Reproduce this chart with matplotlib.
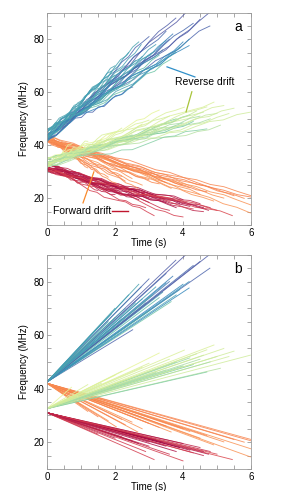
import matplotlib
matplotlib.use("Agg")
import matplotlib.pyplot as plt
import numpy as np

plt.rcParams['font.family'] = ['Liberation Sans', 'DejaVu Sans']

# start frequency (MHz) of each drift group at t = 0
start_blue = 42.5
start_green = 32.5
start_orange = 42.0
start_red = 31.0

# fitted tracks: end time (s), end frequency (MHz), colour value on Spectral
blue_end_t = [2.77, 1.55, 2.52, 4.08, 4.77, 4.79, 3.79, 3.65, 3.9, 3.0, 2.7, 3.4,
              3.6, 2.0, 2.2, 3.3, 4.0, 2.9, 1.8, 3.5, 2.4, 3.0, 4.3, 3.8, 4.18, 4.18,
              3.2, 2.6, 3.7, 1.9, 2.3, 3.5, 4.5, 3.1, 2.0, 2.8]
blue_end_f = [78, 63.5, 62, 90, 90, 85, 88, 72.5, 77, 81, 79, 76,
              80, 70, 66, 74, 79, 72, 65, 83, 75, 69, 86, 75, 80, 77.6,
              78, 72, 82, 68, 70, 79.5, 87.5, 75, 66.5, 73.5]
blue_c = [0.86, 0.86, 0.96, 0.98, 0.97, 0.96, 0.97, 0.79, 0.87, 0.96, 0.85, 0.86,
          0.94, 0.85, 0.83, 0.81, 0.9, 0.84, 0.84, 0.95, 0.86, 0.82, 0.95, 0.85, 0.88, 0.9,
          0.86, 0.85, 0.92, 0.86, 0.85, 0.88, 0.97, 0.84, 0.84, 0.87]

green_end_t = [5.98, 4.91, 5.35, 5.2, 4.04, 3.3, 5.1, 4.7, 4.5, 2.8, 2.0, 1.2,
               0.72, 3.8, 4.3, 4.6, 3.5, 4.8, 2.5, 5.0, 3.0, 4.2,
               4.4, 3.6, 5.5, 2.2, 4.0, 3.2, 4.7, 1.6]
green_end_f = [52.5, 56.3, 52.0, 55.0, 54.4, 53.3, 47.6, 46.2, 51.0, 48.0, 45.0, 41.5,
               40.5, 50.0, 49.0, 52.5, 47.0, 50.0, 44.0, 52.0, 49.5, 51.5,
               53.0, 51.0, 54.0, 46.5, 48.5, 46.0, 54.5, 42.0]
green_c = [0.64, 0.62, 0.64, 0.63, 0.62, 0.6, 0.68, 0.75, 0.7, 0.62, 0.6, 0.62,
           0.6, 0.76, 0.78, 0.65, 0.68, 0.7, 0.66, 0.66, 0.62, 0.72,
           0.65, 0.63, 0.64, 0.62, 0.73, 0.7, 0.63, 0.64]

orange_end_t = [6.0, 6.0, 5.98, 5.2, 4.9, 4.5, 3.65, 2.67, 2.04, 2.3, 1.5, 1.2,
                3.0, 4.0, 2.5, 1.8, 3.3, 5.5, 5.8, 4.2, 2.8, 1.0, 3.5, 2.2, 4.7, 6.0]
orange_end_f = [20.5, 21.0, 14.5, 20.1, 19.0, 21.5, 23.8, 23.8, 25.7, 26.5, 29.5, 31.5,
                27.0, 25.0, 27.5, 28.0, 25.5, 21.0, 20.0, 24.0, 25.0, 34.0, 26.0, 28.5,
                22.5, 17.5]
orange_c = [0.23, 0.24, 0.26, 0.25, 0.26, 0.25, 0.26, 0.25, 0.24, 0.23, 0.23, 0.25,
            0.24, 0.23, 0.25, 0.26, 0.24, 0.23, 0.24, 0.25, 0.26, 0.25, 0.23, 0.24,
            0.23, 0.26]

red_end_t = [5.45, 4.75, 4.6, 4.0, 3.15, 2.4, 3.6, 4.2, 3.9, 3.0, 2.7, 2.0,
             3.4, 4.5, 1.5, 2.9, 4.0, 3.2, 4.8, 4.6, 3.8, 2.5, 4.3, 3.5, 2.2, 5.0, 3.0]
red_end_f = [13.5, 15.5, 16.5, 13.0, 13.5, 23.5, 15.5, 17.0, 18.0, 18.5, 19.5, 21.5,
             20.0, 18.0, 23.0, 16.5, 19.5, 21.0, 16.5, 15.0, 16.5, 20.5, 16.0, 18.5,
             22.0, 15.5, 20.0]
red_c = [0.12, 0.05, 0.02, 0.1, 0.1, 0.04, 0.08, 0.03, 0.0, 0.06, 0.03, 0.05,
         0.02, 0.06, 0.08, 0.09, 0.04, 0.01, 0.07, 0.06, 0.03, 0.05, 0.1, 0.02,
         0.07, 0.11, 0.04]

# deviation of measured tracks from the fitted line (MHz), along each track
wiggles = [
    [0.5, 1.5, 1.0, 2.0, 1.2, 0.8, 1.6, 0.4, -0.3, 0.6, 1.1, 0.2, -0.5, 0.3, 0.9, 0.0],
    [1.0, 0.2, -0.8, -0.2, -1.2, -0.5, 0.4, -0.6, -1.4, -0.9, 0.1, -0.3, 0.6, 1.0, 0.3, 0.0],
    [2.5, 3.0, 1.8, 2.2, 0.9, 1.4, 0.3, -0.4, 0.5, -0.2, -1.0, -0.3, 0.4, -0.6, 0.2, 0.0],
    [-0.5, -1.2, -0.4, 0.6, 1.3, 0.8, 1.8, 1.1, 0.4, 1.2, 0.5, -0.4, -1.1, -0.5, -0.9, 0.0],
    [0.0, 0.8, 1.9, 1.2, 0.3, -0.6, -1.5, -0.8, -1.8, -1.0, -0.2, 0.7, 0.1, 1.0, 0.4, 0.0],
    [3.5, 2.4, 2.9, 1.6, 0.7, 1.3, 0.2, 0.9, -0.4, 0.3, -0.8, 0.0, 0.6, -0.3, 0.5, 0.0],
    [-1.0, 0.2, -0.6, 0.8, 0.1, 1.2, 0.4, -0.5, 0.3, -0.7, 0.6, 1.4, 0.8, 0.2, -0.4, 0.0],
    [1.5, 0.6, 1.2, -0.2, 0.5, -0.9, -0.3, 0.4, 1.0, 0.2, -0.6, -1.3, -0.4, -1.0, -0.2, 0.0],
]
# how strongly each group wanders around its fit in panel a
wiggle_amp = [0.7, 0.6, 0.8, 1.0]

groups = [
    (start_red, red_end_t, red_end_f, red_c),
    (start_orange, orange_end_t, orange_end_f, orange_c),
    (start_green, green_end_t, green_end_f, green_c),
    (start_blue, blue_end_t, blue_end_f, blue_c),
]

cmap = plt.get_cmap('Spectral')
frame_col = '#9a9a9a'


def style_axes(ax, letter):
    ax.set_xlim(0, 6)
    ax.set_ylim(10, 90)
    ax.set_xticks([0, 2, 4, 6])
    ax.set_yticks([20, 40, 60, 80])
    ax.set_xticks(np.arange(0, 6.01, 0.5), minor=True)
    ax.set_yticks(np.arange(10, 90.1, 5), minor=True)
    ax.tick_params(which='both', direction='in', top=True, right=True,
                   color=frame_col, width=0.6, length=3, labelsize=7, pad=2)
    for s in ax.spines.values():
        s.set_color(frame_col)
        s.set_linewidth(0.6)
    ax.set_xlabel('Time (s)', fontsize=7, labelpad=0.5)
    ax.set_ylabel('Frequency (MHz)', fontsize=7, labelpad=3)
    ax.text(0.955, 0.965, letter, transform=ax.transAxes, ha='right', va='top', fontsize=10)


fig = plt.figure(figsize=(3.05, 4.91), dpi=100)
ax_a = fig.add_axes([0.154, 0.542, 0.669, 0.432])
ax_b = fig.add_axes([0.154, 0.045, 0.669, 0.436])

k = 0
for g, (f0, ts, fs, cs) in enumerate(groups):
    for t1, f1, c in zip(ts, fs, cs):
        col = cmap(c)
        # panel b: fitted straight tracks
        ax_b.plot([0, t1], [f0, f1], color=col, lw=0.65, alpha=0.85)
        # panel a: measured tracks = fit + deviation
        w = np.array(wiggles[k % len(wiggles)]) * wiggle_amp[g]
        tt = np.linspace(0, t1, len(w))
        ff = f0 + (f1 - f0) * tt / t1 + w
        ax_a.plot(tt, ff, color=col, lw=0.65, alpha=0.85)
        k += 1

# annotations in panel a
ax_a.text(4.65, 64.0, 'Reverse drift', fontsize=7.5, ha='center', va='center')
ax_a.plot([3.53, 4.35], [69.6, 65.8], color='#2f8fc8', lw=0.9)
ax_a.plot([4.26, 4.09], [60.2, 52.6], color='#a8c43a', lw=0.9)
ax_a.text(1.04, 15.3, 'Forward drift', fontsize=7.5, ha='center', va='center')
ax_a.plot([1.91, 2.38], [15.3, 15.3], color='#c0162e', lw=1.0)
ax_a.plot([1.38, 1.06], [30.0, 18.3], color='#f98a2c', lw=0.9)

style_axes(ax_a, 'a')
style_axes(ax_b, 'b')

fig.savefig('out.png', dpi=100)
